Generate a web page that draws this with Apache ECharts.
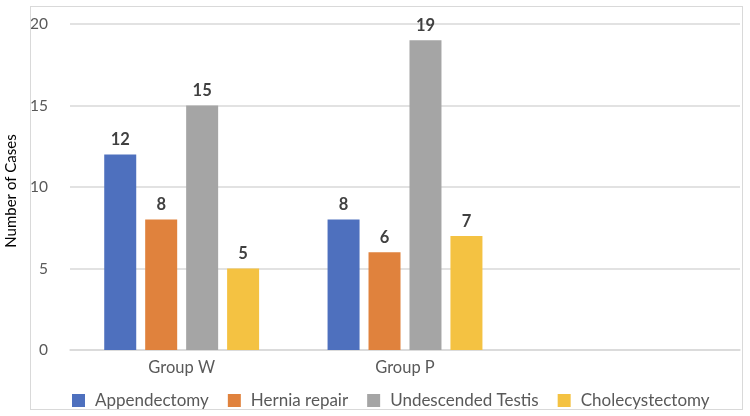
<!DOCTYPE html>
<html>
<head>
<meta charset="utf-8">
<script src="https://cdn.jsdelivr.net/npm/echarts@6/dist/echarts.min.js"></script>
<style>
  html, body { margin: 0; padding: 0; background: #fff; }
  #main { width: 750px; height: 416px; position: relative; }
  #frame { position: absolute; left: 30px; top: 6px; width: 711px; height: 402px; border: 1px solid #d9d9d9; pointer-events: none; }
</style>
</head>
<body>
<div id="main"></div>
<div id="frame"></div>
<script>
// categories (third slot is empty in the original)
var groups = ['Group W', 'Group P', ''];
var names = ['Appendectomy', 'Hernia repair', 'Undescended Testis', 'Cholecystectomy'];
var appendectomy = [12, 8, null];
var herniaRepair = [8, 6, null];
var undescended = [15, 19, null];
var cholecystectomy = [5, 7, null];
var colors = ['#4E70BE', '#E0823D', '#A5A5A5', '#F4C242'];

var font = 'Lato, "Noto Sans", sans-serif';
var myChart = echarts.init(document.getElementById('main'));

function bar(name, data, i) {
    return {
        name: name,
        type: 'bar',
        data: data,
        barWidth: 32,
        barGap: '28%',
        itemStyle: { color: colors[i] },
        label: {
            show: true,
            position: 'top',
            distance: 6,
            color: '#404040',
            fontFamily: font,
            fontSize: 16.5,
            fontWeight: 'bold'
        }
    };
}

var option = {
    animation: false,
    textStyle: { fontFamily: font },
    grid: { left: 70, right: 10, top: 24, bottom: 66, outerBoundsMode: 'none', containLabel: false },
    legend: {
        left: 72,
        top: 392,
        padding: 0,
        itemWidth: 13,
        itemHeight: 13,
        itemGap: 19,
        icon: 'rect',
        textStyle: { color: '#595959', fontSize: 17, fontFamily: font, padding: [0, 0, 0, 5] },
        data: names
    },
    xAxis: {
        type: 'category',
        data: groups,
        axisLine: { lineStyle: { color: '#d9d9d9', width: 1.5 } },
        axisTick: { show: false },
        axisLabel: { color: '#595959', fontSize: 16.5, margin: 9 }
    },
    yAxis: {
        type: 'value',
        min: 0,
        max: 20,
        interval: 5,
        name: 'Number of Cases',
        nameLocation: 'middle',
        nameGap: 49,
        nameTextStyle: { color: '#000', fontSize: 15, padding: [0, 8, 0, 0] },
        axisLine: { show: false },
        axisTick: { show: false },
        axisLabel: { color: '#595959', fontSize: 15.5, margin: 22 },
        splitLine: { lineStyle: { color: '#d9d9d9', width: 1.5 } }
    },
    series: [
        bar(names[0], appendectomy, 0),
        bar(names[1], herniaRepair, 1),
        bar(names[2], undescended, 2),
        bar(names[3], cholecystectomy, 3)
    ]
};

myChart.setOption(option);
</script>
</body>
</html>
